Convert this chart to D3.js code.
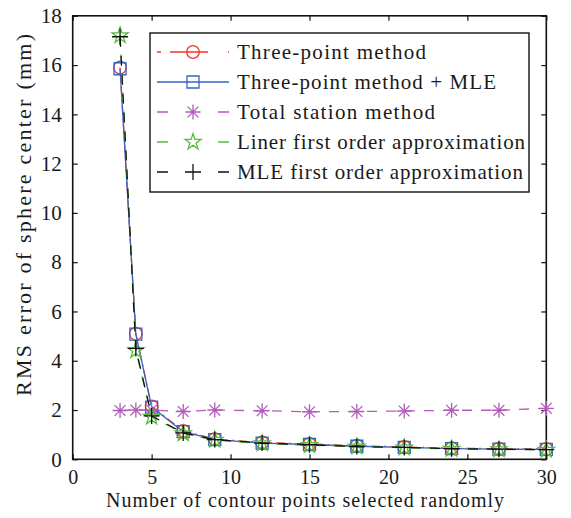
<!DOCTYPE html>
<html>
<head>
<meta charset="utf-8">
<script src="https://cdn.jsdelivr.net/npm/d3@7/dist/d3.min.js"></script>
<style>
  html, body { margin: 0; padding: 0; background: #fff; }
  svg text { font-family: "Liberation Serif", "Times New Roman", serif; fill: #1a1a1a; }
</style>
</head>
<body>
<div id="chart"></div>
<script>
// number of contour points
const points = [3, 4, 5, 7, 9, 12, 15, 18, 21, 24, 27, 30];

// RMS error (mm) per method
const threePoint = [15.9, 5.1, 2.15, 1.15, 0.82, 0.68, 0.62, 0.55, 0.5, 0.45, 0.43, 0.42];
const threePointMLE = [15.85, 5.08, 2.12, 1.12, 0.8, 0.66, 0.6, 0.53, 0.48, 0.43, 0.41, 0.4];
const totalStation = [1.98, 2.0, 2.0, 1.94, 2.0, 1.97, 1.93, 1.94, 1.96, 1.99, 1.99, 2.07];
const linerFirst = [17.2, 4.42, 1.72, 1.05, 0.78, 0.64, 0.57, 0.51, 0.47, 0.42, 0.4, 0.38];
const mleFirst = [17.15, 4.5, 1.76, 1.07, 0.8, 0.66, 0.59, 0.52, 0.48, 0.43, 0.41, 0.39];

const xTicks = [0, 5, 10, 15, 20, 25, 30];
const yTicks = [0, 2, 4, 6, 8, 10, 12, 14, 16, 18];

const seriesNames = [
  'Three-point method',
  'Three-point method + MLE',
  'Total station method',
  'Liner first order approximation',
  'MLE first order approximation'
];

const W = 571, H = 518;
const m = { left: 72.7, right: 546.3, top: 15.8, bottom: 459.3 };

const svg = d3.select('#chart').append('svg')
  .attr('width', W)
  .attr('height', H);

const x = d3.scaleLinear().domain([0, 30]).range([m.left, m.right]);
const y = d3.scaleLinear().domain([0, 18]).range([m.bottom, m.top]);

// marker paths centred on 0,0
const markers = {
  circle: (s) => d3.symbol(d3.symbolCircle, Math.PI * s * s)(),
  square: (s) => `M${-s},${-s}H${s}V${s}H${-s}Z`,
  asterisk: (s) => {
    const d = s * 0.72;
    return `M${-s},0H${s}M0,${-s}V${s}M${-d},${-d}L${d},${d}M${-d},${d}L${d},${-d}`;
  },
  star: (s) => d3.symbol(d3.symbolStar, s * s * 1.9)(),
  plus: (s) => `M${-s},0H${s}M0,${-s}V${s}`
};

const styles = [
  { color: '#f2342a', dash: '9,4,2,4', marker: 'circle', size: 6.3, legendDash: '4,9,38,20,2,10' },
  { color: '#3862c4', dash: null, marker: 'square', size: 6, legendDash: null },
  { color: '#b25cb8', dash: '10,9', marker: 'asterisk', size: 7.5, legendDash: '11,50,11' },
  { color: '#56bd3c', dash: '10,9', marker: 'star', size: 6.5, legendDash: '11,50,11' },
  { color: '#111111', dash: '10,9', marker: 'plus', size: 8, legendDash: '11,50,11' }
];

const allSeries = [threePoint, threePointMLE, totalStation, linerFirst, mleFirst];

// axes with inward ticks on all four sides
const tick = 5;
svg.append('g')
  .attr('transform', `translate(0,${m.bottom})`)
  .call(d3.axisBottom(x).tickValues(xTicks).tickSizeInner(-tick).tickSizeOuter(0).tickPadding(11))
  .call(g => g.selectAll('text').attr('font-size', 20).attr('dy', '0.71em'));
svg.append('g')
  .attr('transform', `translate(0,${m.top})`)
  .call(d3.axisTop(x).tickValues(xTicks).tickSizeInner(-tick).tickSizeOuter(0).tickFormat(''));
svg.append('g')
  .attr('transform', `translate(${m.left},0)`)
  .call(d3.axisLeft(y).tickValues(yTicks).tickSizeInner(-tick).tickSizeOuter(0).tickPadding(11))
  .call(g => g.selectAll('text').attr('font-size', 21));
svg.append('g')
  .attr('transform', `translate(${m.right},0)`)
  .call(d3.axisRight(y).tickValues(yTicks).tickSizeInner(-tick).tickSizeOuter(0).tickFormat(''));

svg.selectAll('.domain').remove();
svg.selectAll('.tick line').attr('stroke', '#111').attr('stroke-width', 1.2);
svg.append('rect')
  .attr('x', m.left).attr('y', m.top)
  .attr('width', m.right - m.left).attr('height', m.bottom - m.top)
  .attr('fill', 'none').attr('stroke', '#111').attr('stroke-width', 1.6);

// axis titles
svg.append('text')
  .attr('x', 305)
  .attr('y', 507)
  .attr('text-anchor', 'middle')
  .attr('font-size', 20)
  .attr('textLength', 398)
  .attr('lengthAdjust', 'spacing')
  .text('Number of contour points selected randomly');

svg.append('text')
  .attr('transform', 'translate(31,215) rotate(-90)')
  .attr('text-anchor', 'middle')
  .attr('font-size', 22)
  .attr('textLength', 362)
  .attr('lengthAdjust', 'spacing')
  .text('RMS error of sphere center (mm)');

// series
const line = d3.line().x(d => x(d[0])).y(d => y(d[1]));
allSeries.forEach((vals, i) => {
  const st = styles[i];
  const pts = points.map((p, j) => [p, vals[j]]);
  const g = svg.append('g');
  g.append('path')
    .attr('d', line(pts))
    .attr('fill', 'none')
    .attr('stroke', st.color)
    .attr('stroke-width', 1.3)
    .attr('stroke-dasharray', st.dash);
  g.selectAll('path.mk').data(pts).enter().append('path')
    .attr('class', 'mk')
    .attr('transform', d => `translate(${x(d[0])},${y(d[1])})`)
    .attr('d', markers[st.marker](st.size))
    .attr('fill', 'none')
    .attr('stroke', st.color)
    .attr('stroke-width', 1.3);
});

// legend
const lg = svg.append('g');
lg.append('rect')
  .attr('x', 150).attr('y', 33)
  .attr('width', 379).attr('height', 159)
  .attr('fill', '#fff').attr('stroke', '#111').attr('stroke-width', 1.4);
const textEnds = [426, 496, 435, 525, 523];
seriesNames.forEach((name, i) => {
  const st = styles[i];
  const cy = 52 + i * 30;
  lg.append('line')
    .attr('x1', 157).attr('x2', 229).attr('y1', cy).attr('y2', cy)
    .attr('stroke', st.color).attr('stroke-width', 1.3)
    .attr('stroke-dasharray', st.legendDash);
  lg.append('path')
    .attr('transform', `translate(193,${cy})`)
    .attr('d', markers[st.marker](st.size))
    .attr('fill', 'none').attr('stroke', st.color).attr('stroke-width', 1.3);
  lg.append('text')
    .attr('x', 237).attr('y', cy)
    .attr('dy', '0.35em')
    .attr('font-size', 21)
    .attr('textLength', textEnds[i] - 237)
    .attr('lengthAdjust', 'spacing')
    .text(name);
});
</script>
</body>
</html>
